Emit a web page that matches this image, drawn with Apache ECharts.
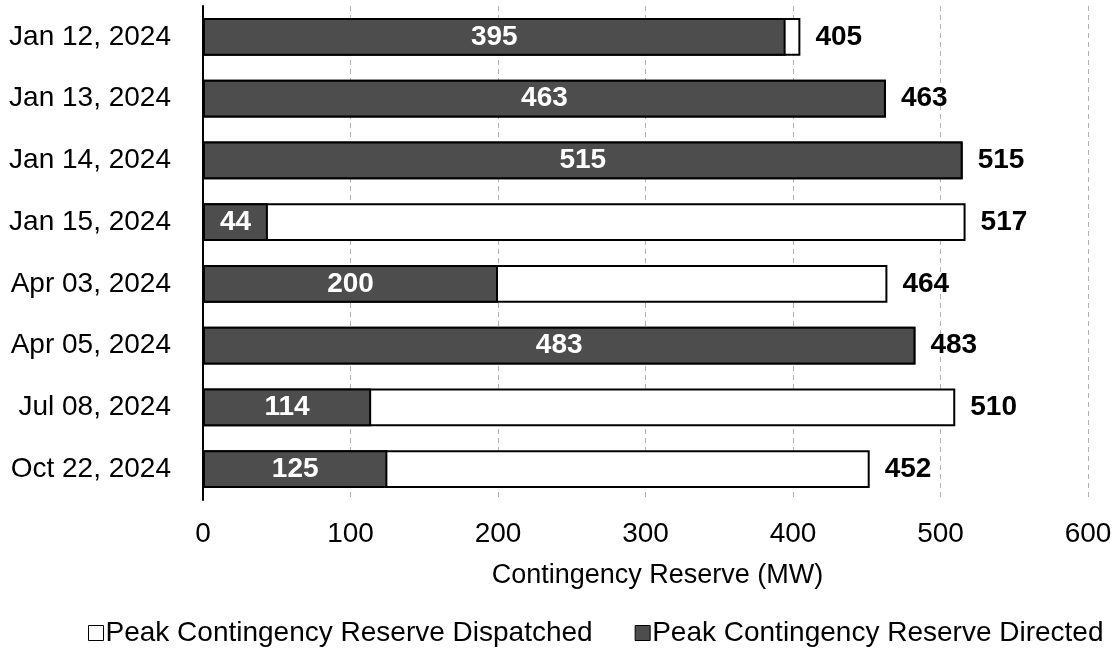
<!DOCTYPE html>
<html><head><meta charset="utf-8">
<script src="https://cdn.jsdelivr.net/npm/echarts@6/dist/echarts.min.js"></script>
<style>html,body{margin:0;padding:0;background:#fff}#c{width:1120px;height:651px}</style>
</head><body><div id="c"></div>
<script>
const categories = ["Jan 12, 2024","Jan 13, 2024","Jan 14, 2024","Jan 15, 2024","Apr 03, 2024","Apr 05, 2024","Jul 08, 2024","Oct 22, 2024"];
const dispatched = [405,463,515,517,464,483,510,452];
const directed = [395,463,515,44,200,483,114,125];
const xTicks = [0,100,200,300,400,500,600];
const FONT = "Liberation Sans, Arial, sans-serif";
const chart = echarts.init(document.getElementById('c'));
chart.setOption({
  animation:false,
  textStyle:{fontFamily:FONT},
  grid:{left:203,right:32,top:6,bottom:151,containLabel:false},
  xAxis:{type:'value',min:xTicks[0],max:xTicks[xTicks.length-1],interval:100,
    axisLine:{show:false},axisTick:{show:false},
    axisLabel:{fontSize:28,color:'#000',margin:20,fontFamily:FONT},
    splitLine:{show:true,lineStyle:{color:'#b0b0b0',type:[5,4],width:1}},
    name:'Contingency Reserve (MW)',nameLocation:'middle',nameGap:62,
    nameTextStyle:{fontSize:27,color:'#000',fontFamily:FONT,verticalAlign:'top',padding:[0,0,0,24]}},
  yAxis:{type:'category',data:categories,inverse:true,
    axisLine:{show:true,lineStyle:{color:'#000',width:2}},axisTick:{show:false},
    axisLabel:{fontSize:28,color:'#000',margin:32,fontFamily:FONT},
    splitLine:{show:false}},
  legend:{top:619,left:88,padding:0,itemWidth:15,itemHeight:15,itemGap:42,icon:'rect',
    textStyle:{fontSize:28,color:'#000',fontFamily:FONT,padding:[0,0,0,-3]},
    data:[{name:'Peak Contingency Reserve Dispatched',itemStyle:{color:'#fff',borderColor:'#000',borderWidth:1}},
          {name:'Peak Contingency Reserve Directed',itemStyle:{color:'#4d4d4d',borderColor:'#000',borderWidth:1}}]},
  series:[
    {name:'Peak Contingency Reserve Dispatched',type:'bar',data:dispatched,barWidth:'61.5%',barGap:'-100%',
      itemStyle:{color:'#fff',borderColor:'#000',borderWidth:2},
      label:{show:true,position:'right',distance:15,fontSize:28,fontWeight:'bold',color:'#000',fontFamily:FONT},z:2},
    {name:'Peak Contingency Reserve Directed',type:'bar',data:directed,barWidth:'61.5%',barGap:'-100%',
      itemStyle:{color:'#4d4d4d',borderColor:'#000',borderWidth:2},
      label:{show:true,position:'inside',fontSize:28,fontWeight:'bold',color:'#fff',fontFamily:FONT},z:3}
  ]
});
</script></body></html>
